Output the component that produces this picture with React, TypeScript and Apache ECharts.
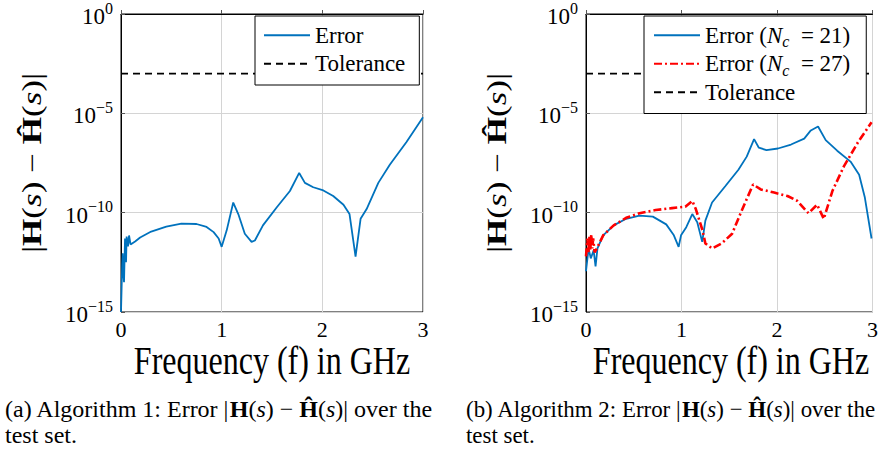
import React, { useEffect, useRef } from "react";
import * as echarts from "echarts";

// Values are log10 of the error magnitude
const freqA = [0, 0.012, 0.017, 0.022, 0.03, 0.04, 0.05, 0.056, 0.07, 0.08, 0.095, 0.14, 0.19, 0.3, 0.45, 0.6, 0.75, 0.85, 0.92, 0.97, 1.0, 1.05, 1.115, 1.165, 1.23, 1.297, 1.33, 1.41, 1.546, 1.678, 1.77, 1.827, 1.91, 2.01, 2.108, 2.21, 2.27, 2.33, 2.38, 2.44, 2.556, 2.67, 2.836, 3.0];
const errA = [-15, -12.6, -12.04, -12.9, -13.5, -11.3, -12.5, -11.2, -11.7, -11.15, -11.6, -11.45, -11.25, -10.95, -10.7, -10.55, -10.57, -10.72, -10.98, -11.3, -11.72, -10.89, -9.49, -10.07, -11.06, -11.47, -11.4, -10.64, -9.74, -8.91, -8.0, -8.5, -8.72, -8.88, -9.16, -9.6, -10.07, -12.21, -10.31, -9.82, -8.5, -7.59, -6.44, -5.2];

const freqB21 = [0, 0.027, 0.05, 0.08, 0.1, 0.12, 0.18, 0.29, 0.42, 0.56, 0.7, 0.84, 0.92, 0.97, 0.995, 1.05, 1.113, 1.165, 1.217, 1.25, 1.32, 1.46, 1.596, 1.683, 1.76, 1.81, 1.89, 2.01, 2.147, 2.285, 2.354, 2.43, 2.51, 2.63, 2.77, 2.86, 2.92, 2.99];
const errB21 = [-12.95, -11.8, -12.3, -11.9, -12.7, -11.8, -11.14, -10.64, -10.31, -10.15, -10.2, -10.59, -11.14, -11.72, -11.14, -10.73, -10.07, -10.48, -11.47, -10.4, -9.49, -8.66, -7.84, -7.18, -6.3, -6.73, -6.85, -6.77, -6.57, -6.27, -5.86, -5.66, -6.35, -6.88, -7.43, -8.09, -9.24, -11.3];

const freqB27 = [0, 0.015, 0.025, 0.035, 0.045, 0.055, 0.065, 0.075, 0.09, 0.113, 0.18, 0.29, 0.42, 0.56, 0.73, 0.9, 1.04, 1.113, 1.15, 1.22, 1.25, 1.32, 1.42, 1.53, 1.63, 1.75, 1.83, 1.97, 2.11, 2.21, 2.33, 2.42, 2.49, 2.58, 2.7, 2.85, 2.99];
const errB27 = [-12.2, -11.3, -12.0, -11.2, -11.9, -11.1, -11.8, -11.3, -12.0, -11.8, -11.14, -10.64, -10.26, -10.03, -9.87, -9.77, -9.7, -9.41, -9.82, -10.89, -11.55, -11.8, -11.55, -11.06, -9.9, -8.58, -8.83, -8.99, -9.16, -9.4, -10.03, -9.6, -10.31, -8.91, -7.67, -6.44, -5.45];

const tolFreq = [0, 3];
const tolVal = [-3, -3];

const xTicks = [0, 1, 2, 3];
const yTicks = [-15, -10, -5, 0];

const FONT = "'Liberation Serif', 'DejaVu Serif', serif";
const BLUE = "#0072BD";
const RED = "#FF0000";

const pairs = (xs: number[], ys: number[]) => xs.map((x, i) => [x, ys[i]]);

export default function App() {
  const ref = useRef<HTMLDivElement>(null);
  useEffect(() => {
    if (!ref.current) return;
    const chart = echarts.init(ref.current, null, { renderer: "svg" });

    const xAxisBase = (gridIndex: number) => ({
      type: "value",
      gridIndex,
      min: xTicks[0],
      max: xTicks[xTicks.length - 1],
      interval: 1,
      axisLine: { show: true, lineStyle: { color: "#000", width: 1 } },
      axisTick: { show: true, inside: true, length: 4, lineStyle: { color: "#555" } },
      axisLabel: { fontSize: 22, color: "#000", fontFamily: FONT, margin: 6 },
      splitLine: { show: true, lineStyle: { color: "#d4d4d4", width: 1 } },
    });
    const yAxisBase = (gridIndex: number) => ({
      type: "value",
      gridIndex,
      min: yTicks[0],
      max: yTicks[yTicks.length - 1],
      interval: 5,
      axisLine: { show: true, lineStyle: { color: "#000", width: 1 } },
      axisTick: { show: true, inside: true, length: 4, lineStyle: { color: "#555" } },
      axisLabel: {
        margin: 8,
        formatter: (v: number) => `{b|10}{s|${v === 0 ? "0" : "\u2212" + Math.abs(v)}}`,
        rich: {
          b: { fontSize: 23, fontFamily: FONT, color: "#000", lineHeight: 28, verticalAlign: "bottom" },
          s: { fontSize: 16, fontFamily: FONT, color: "#000", lineHeight: 28, verticalAlign: "top", padding: [0, 0, 12, 0] },
        },
      },
      splitLine: { show: true, lineStyle: { color: "#d4d4d4", width: 1 } },
    });

    const legendBase = {
      orient: "vertical",
      top: 16,
      borderColor: "#000",
      borderWidth: 1,
      backgroundColor: "#fff",
      itemWidth: 46,
      itemHeight: 14,
      itemGap: 0,
      selectedMode: false,
      itemStyle: { opacity: 0 },
      textStyle: {
        fontSize: 23,
        fontFamily: FONT,
        color: "#000",
        lineHeight: 28.5,
        rich: {
          t: { fontSize: 23, fontFamily: FONT, color: "#000", lineHeight: 28.5 },
          i: { fontSize: 23, fontFamily: FONT, fontStyle: "italic", color: "#000", lineHeight: 28.5 },
          sub: { fontSize: 16, fontFamily: FONT, fontStyle: "italic", color: "#000", lineHeight: 28.5, verticalAlign: "bottom", padding: [9, 0, 0, 0] },
        },
      },
      formatter: (name: string) => {
        const m = name.match(/^Error \(Nc = (\d+)\)$/);
        if (m) return `{t|Error (}{i|N}{sub|c}{t|  = ${m[1]})}`;
        return `{t|${name}}`;
      },
    };

    const yLabel = (x: number) => ({
      type: "text",
      x,
      y: 163,
      rotation: Math.PI / 2,
      scaleX: 1.3,
      style: {
        text: "{r||}{b|H}{r|(}{i|s}{r|) \u2212 }{b|\u0124}{r|(}{i|s}{r|)|}",
        textAlign: "center",
        textVerticalAlign: "middle",
        rich: {
          r: { fontSize: 27, fontFamily: FONT, fill: "#000" },
          b: { fontSize: 27, fontFamily: FONT, fontWeight: "bold", fill: "#000" },
          i: { fontSize: 27, fontFamily: FONT, fontStyle: "italic", fill: "#000" },
        },
      },
    });

    const xName = (x: number) => ({
      type: "text",
      x,
      y: 361,
      scaleX: 0.8,
      style: {
        text: "Frequency (f) in GHz",
        fontSize: 40,
        fontFamily: FONT,
        fill: "#000",
        textAlign: "center",
        textVerticalAlign: "middle",
      },
    });

    const caption = (x: number, tag: string, alg: string, sx: number) => ({
      type: "text",
      x,
      y: 396,
      scaleX: sx,
      style: {
        text: `{r|(${tag}) Algorithm ${alg}: Error |}{b|H}{r|(}{i|s}{r|) \u2212 }{b|\u0124}{r|(}{i|s}{r|)| over the}\n{r|test set.}`,
        textAlign: "left",
        textVerticalAlign: "top",
        rich: {
          r: { fontSize: 24, fontFamily: FONT, fill: "#000", lineHeight: 26 },
          b: { fontSize: 24, fontFamily: FONT, fontWeight: "bold", fill: "#000", lineHeight: 26 },
          i: { fontSize: 24, fontFamily: FONT, fontStyle: "italic", fill: "#000", lineHeight: 26 },
        },
      },
    });

    const line = (name: string, xi: number, data: number[][], color: string, width: number, type: any, z = 2) => ({
      name,
      type: "line",
      xAxisIndex: xi,
      yAxisIndex: xi,
      data,
      showSymbol: false,
      symbol: "none",
      z,
      lineStyle: { color, width, type },
      itemStyle: { color },
    });

    chart.setOption({
      animation: false,
      backgroundColor: "#fff",
      grid: [
        { left: 121, top: 10, width: 302, height: 302, show: true, borderColor: "#000", borderWidth: 1, backgroundColor: "transparent" },
        { left: 586, top: 10, width: 290, height: 302, show: true, borderColor: "#000", borderWidth: 1, backgroundColor: "transparent" },
      ],
      xAxis: [xAxisBase(0), xAxisBase(1)],
      yAxis: [yAxisBase(0), yAxisBase(1)],
      legend: [
        { ...legendBase, left: 255, padding: [5, 14, 7, 8], data: ["Error", "Tolerance"] },
        { ...legendBase, left: 644, padding: [5, 16, 7, 9], data: ["Error (Nc = 21)", "Error (Nc = 27)", "Tolerance"] },
      ],
      series: [
        line("Tolerance", 0, pairs(tolFreq, tolVal), "#000", 1.6, [7, 5], 1),
        line("Error", 0, pairs(freqA, errA), BLUE, 1.8, "solid"),
        line("Tolerance", 1, pairs(tolFreq, tolVal), "#000", 1.6, [7, 5], 1),
        line("Error (Nc = 27)", 1, pairs(freqB27, errB27), RED, 2.6, [8, 3, 2, 3], 3),
        line("Error (Nc = 21)", 1, pairs(freqB21, errB21), BLUE, 1.8, "solid", 2),
      ],
      graphic: [yLabel(32), yLabel(497), xName(272), xName(731), caption(5, "a", "1", 1), caption(466, "b", "2", 0.955)],
    });
    return () => chart.dispose();
  }, []);
  return <div ref={ref} style={{ position: "fixed", left: 0, top: 0, width: 881, height: 454 }} />;
}
